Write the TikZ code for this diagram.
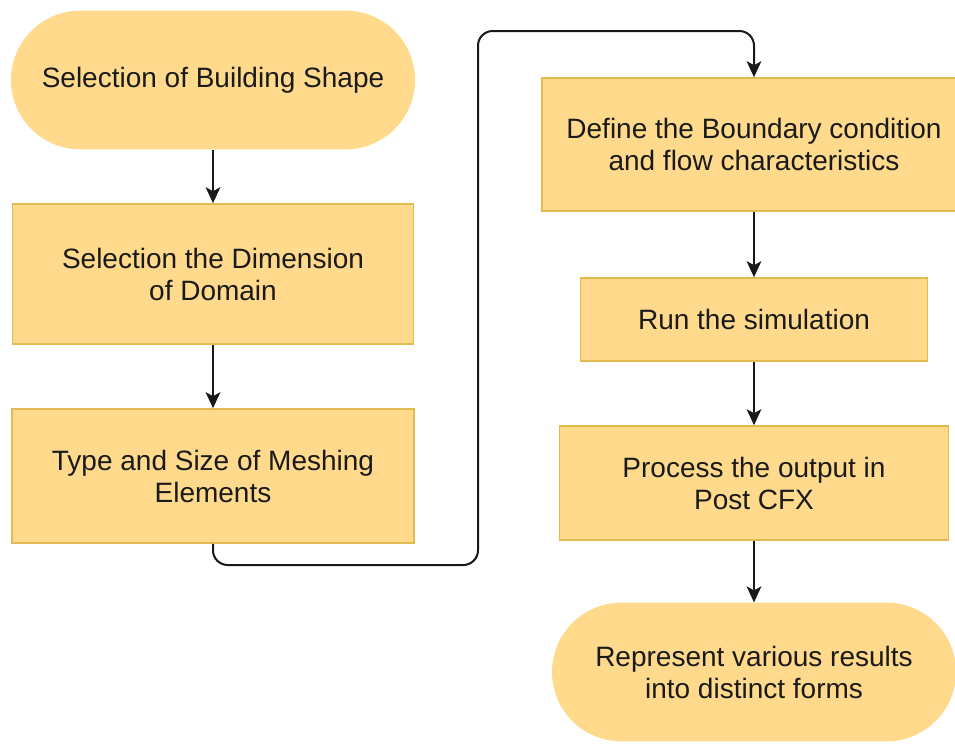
\documentclass[tikz,border=0pt]{standalone}
\usepackage{fontspec}
\setmainfont{Liberation Sans}
\usetikzlibrary{arrows.meta}
\definecolor{boxfill}{RGB}{255,217,140}
\definecolor{boxline}{RGB}{226,186,80}
\definecolor{txt}{RGB}{26,26,26}
\begin{document}
\begin{tikzpicture}[x=0.75pt,y=-0.75pt,
  every node/.style={font=\fontsize{21}{24}\selectfont, text=txt, align=center, inner sep=0pt},
  procbox/.style={rectangle, fill=boxfill, draw=boxline, line width=1.2pt},
  term/.style={rectangle, fill=boxfill, draw=none, minimum width=303pt, minimum height=104pt, rounded corners=52pt},
  flow/.style={line width=1.5pt, draw=black!90, -{Stealth[length=12pt,width=11pt,inset=3pt]}}]
\useasboundingbox (0,0) rectangle (955,743);
\node[term] (n1) at (213,80) {\raisebox{-3pt}{Selection of Building Shape}};
\node[procbox, minimum width=300.75pt, minimum height=105pt] (n2) at (213,274) {Selection the Dimension\\of Domain};
\node[procbox, minimum width=301.5pt, minimum height=100.5pt] (n3) at (213,476) {Type and Size of Meshing\\Elements};
\node[procbox, minimum width=318pt, minimum height=99.75pt] (n4) at (754,144.5) {Define the Boundary condition\\and flow characteristics};
\node[procbox, minimum width=260pt, minimum height=62.25pt] (n5) at (754,319.5) {Run the simulation};
\node[procbox, minimum width=291.75pt, minimum height=85.5pt] (n6) at (754,483) {Process the output in\\Post CFX};
\node[term] (n7) at (754,672) {Represent various results\\into distinct forms};
\coordinate (c1) at (213,565);
\coordinate (c2) at (478,565);
\coordinate (c3) at (478,31);
\coordinate (c4) at (754,31);
\draw[flow] (n1.south) -- (n2.north);
\draw[flow] (n2.south) -- (n3.north);
\draw[flow, rounded corners=11pt] (n3.south) -- (c1) -- (c2) -- (c3) -- (c4) -- (n4.north);
\draw[flow] (n4.south) -- (n5.north);
\draw[flow] (n5.south) -- (n6.north);
\draw[flow] (n6.south) -- (n7.north);
\end{tikzpicture}
\end{document}
